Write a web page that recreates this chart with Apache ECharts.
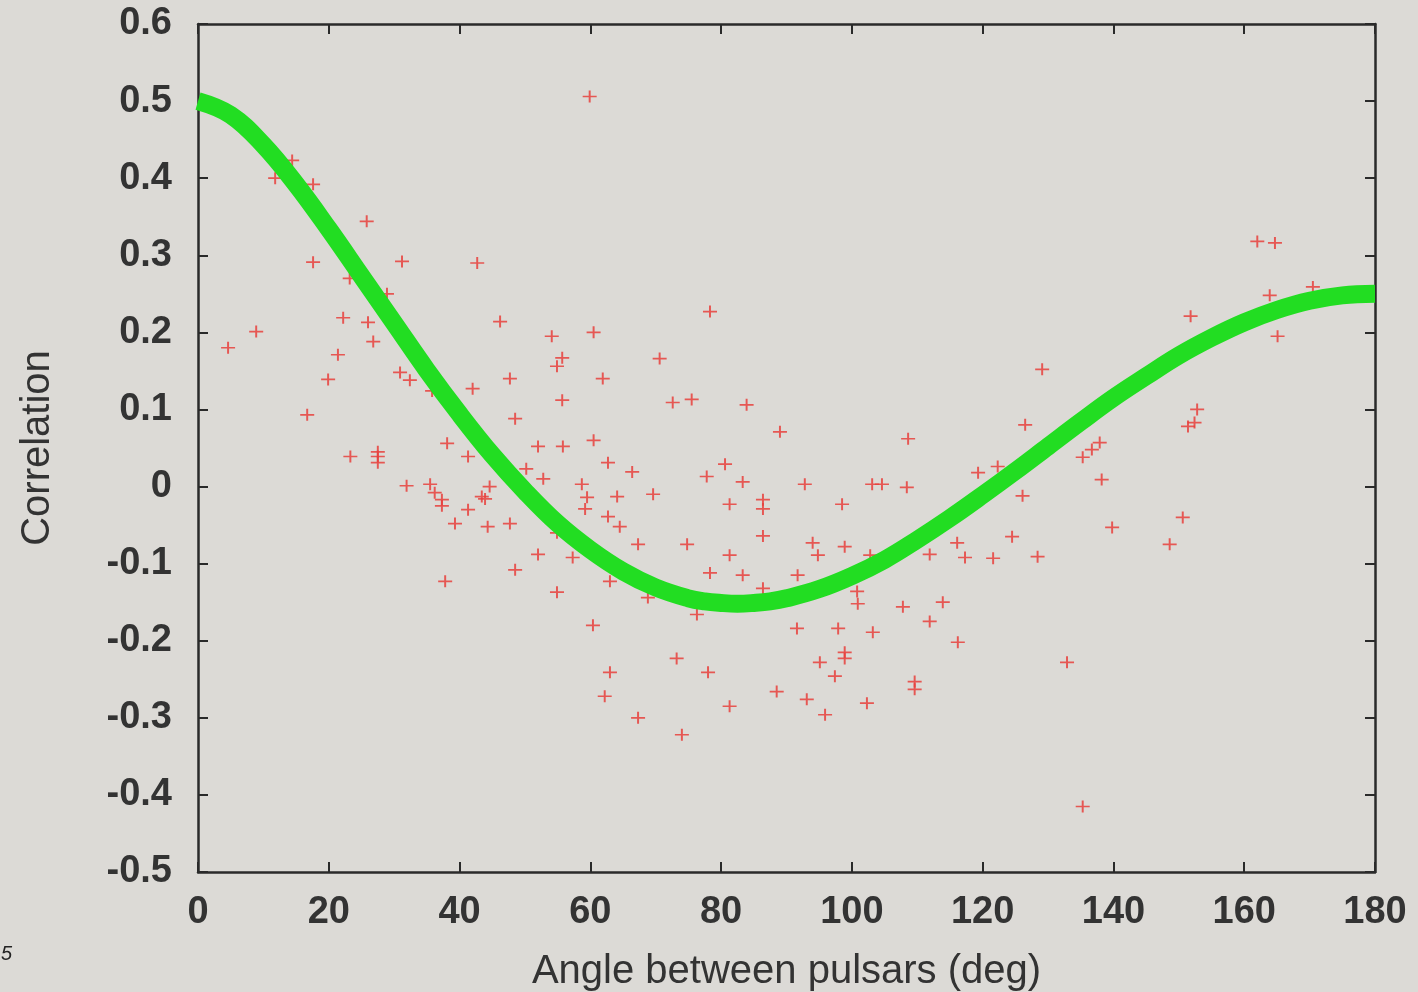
<!DOCTYPE html>
<html>
<head>
<meta charset="utf-8">
<script src="https://cdn.jsdelivr.net/npm/echarts@6/dist/echarts.min.js"></script>
<style>
  html, body { margin: 0; padding: 0; background: #dcdad6; }
  #chart { width: 1418px; height: 992px; }
</style>
</head>
<body>
<div id="chart"></div>
<script>
// tick labels
var xTicks = [0, 20, 40, 60, 80, 100, 120, 140, 160, 180];
var yTicks = [-0.5, -0.4, -0.3, -0.2, -0.1, 0, 0.1, 0.2, 0.3, 0.4, 0.5, 0.6];

// expected curve
var curveAngle = [0, 5, 10, 15, 20, 25, 30, 35, 40, 45, 50, 55, 60, 65, 70, 75, 77.5, 80, 82.5,
  85, 87.5, 90, 95, 100, 105, 110, 115, 120, 125, 130, 135, 140, 145, 150, 155, 160, 165,
  170, 175, 180];
var curveCorr = [0.500, 0.482, 0.443, 0.392, 0.334, 0.273, 0.212, 0.151, 0.094, 0.041, -0.006,
  -0.048, -0.082, -0.110, -0.131, -0.145, -0.149, -0.151, -0.152, -0.151, -0.149, -0.145,
  -0.133, -0.116, -0.095, -0.069, -0.041, -0.011, 0.020, 0.052, 0.084, 0.115, 0.143, 0.170,
  0.193, 0.213, 0.229, 0.241, 0.248, 0.250];

// measured pulsar pairs
var pairAngle = [
  4.6, 8.9, 11.8, 14.4, 17.6, 17.6, 16.7, 19.9, 21.4, 22.2, 23.2, 25.8, 26.0, 26.8, 28.9,
  31.2, 30.9, 32.4, 35.8, 42.0, 42.7, 46.2, 47.7, 48.5, 54.1, 55.7, 54.9, 55.7, 60.5, 59.9,
  23.3, 27.5, 27.5, 27.5, 38.1, 41.3, 52.0, 55.8, 60.5, 50.2, 52.8, 31.9, 35.5, 36.2, 37.3,
  37.3, 44.6, 43.4, 43.9, 41.3, 39.3, 44.3, 47.7, 58.7, 59.5, 59.2, 54.9, 52.0, 57.3, 48.5,
  37.8, 54.9,
  78.3, 61.9, 70.6, 72.6, 75.5, 83.9, 89.0, 108.6, 62.7, 66.4, 80.6, 77.8, 83.3, 92.8,
  103.1, 104.6, 108.4, 119.3, 64.1, 69.6, 81.3, 86.4, 86.4, 98.5, 62.7, 64.5, 67.3, 74.8,
  81.3, 86.4, 94.0, 94.8, 98.9, 102.8, 111.9, 116.1, 117.3, 63.0, 68.8, 78.3, 83.3, 91.7,
  86.4, 100.8, 100.9, 107.8, 113.9, 76.3, 60.4, 91.6, 97.9, 103.2, 111.9, 116.2, 98.9,
  98.9, 95.1, 97.4, 73.2, 63.0, 78.0, 109.6, 109.6, 62.2, 88.5, 93.1, 102.3, 81.3, 95.9,
  67.3, 74.0,
  162.0, 164.7, 170.5, 163.9, 165.1, 151.8, 129.1, 126.5, 152.8, 152.4, 151.4, 137.9,
  136.7, 135.3, 138.2, 122.3, 126.1, 150.6, 139.8, 124.5, 148.6, 121.6, 128.4, 132.9, 135.3
];
var pairCorr = [
  0.180, 0.201, 0.400, 0.423, 0.392, 0.291, 0.093, 0.139, 0.171, 0.219, 0.270, 0.344, 0.213,
  0.188, 0.250, 0.292, 0.148, 0.138, 0.124, 0.127, 0.290, 0.214, 0.140, 0.088, 0.195, 0.167,
  0.156, 0.112, 0.200, 0.506,
  0.039, 0.045, 0.039, 0.031, 0.056, 0.039, 0.052, 0.052, 0.060, 0.023, 0.010, 0.001, 0.003,
  -0.008, -0.017, -0.025, 0.000, -0.013, -0.016, -0.030, -0.048, -0.052, -0.048, 0.003,
  -0.014, -0.029, -0.060, -0.088, -0.092, -0.108, -0.123, -0.137,
  0.227, 0.140, 0.166, 0.109, 0.113, 0.106, 0.071, 0.062, 0.031, 0.019, 0.029, 0.013, 0.006,
  0.003, 0.003, 0.003, -0.001, 0.018, -0.013, -0.010, -0.023, -0.017, -0.029, -0.023,
  -0.039, -0.052, -0.075, -0.075, -0.089, -0.064, -0.073, -0.089, -0.078, -0.089, -0.088,
  -0.073, -0.092, -0.123, -0.144, -0.112, -0.115, -0.115, -0.132, -0.136, -0.152, -0.156,
  -0.150, -0.166, -0.180, -0.184, -0.184, -0.189, -0.175, -0.202, -0.215, -0.223, -0.228,
  -0.246, -0.223, -0.241, -0.241, -0.253, -0.263, -0.272, -0.266, -0.276, -0.281, -0.285,
  -0.296, -0.300, -0.322,
  0.318, 0.316, 0.259, 0.248, 0.195, 0.221, 0.152, 0.080, 0.100, 0.083, 0.078, 0.057, 0.048,
  0.038, 0.009, 0.026, -0.012, -0.040, -0.053, -0.065, -0.075, -0.093, -0.091, -0.228, -0.415
];

var chart = echarts.init(document.getElementById('chart'));

var labelFont = {
  fontFamily: 'Liberation Sans, Arial, sans-serif',
  fontSize: 38,
  fontWeight: 'bold',
  color: '#333333'
};
var frameLine = { show: true, onZero: false, lineStyle: { color: '#2a2a2a', width: 2.5 } };
var innerTick = { show: true, inside: true, length: 10, lineStyle: { color: '#2a2a2a', width: 2 } };

var option = {
  backgroundColor: '#dcdad6',
  animation: false,
  grid: { left: 198, right: 43, top: 24, bottom: 120, outerBoundsMode: 'none', containLabel: false },
  graphic: [{
    type: 'text', left: 1, top: 944,
    style: { text: '5', font: 'italic 20px Liberation Sans', fill: '#222' }
  }],
  xAxis: [{
    type: 'value',
    min: xTicks[0], max: xTicks[xTicks.length - 1], interval: 20,
    axisLine: frameLine,
    axisTick: innerTick,
    splitLine: { show: false },
    axisLabel: Object.assign({ margin: 22 }, labelFont),
    name: 'Angle between pulsars (deg)',
    nameLocation: 'middle',
    nameGap: 80,
    nameTextStyle: {
      fontFamily: 'Liberation Sans, Arial, sans-serif',
      fontSize: 40, color: '#333333'
    }
  }, {
    type: 'value', position: 'top',
    min: xTicks[0], max: xTicks[xTicks.length - 1], interval: 20,
    axisLine: frameLine, axisTick: innerTick,
    axisLabel: { show: false }, splitLine: { show: false }
  }],
  yAxis: [{
    type: 'value',
    min: yTicks[0], max: yTicks[yTicks.length - 1], interval: 0.1,
    axisLine: frameLine,
    axisTick: innerTick,
    splitLine: { show: false },
    axisLabel: Object.assign({ margin: 26 }, labelFont),
    name: 'Correlation',
    nameLocation: 'middle',
    nameRotate: 90,
    nameGap: 140,
    nameTextStyle: {
      fontFamily: 'Liberation Sans, Arial, sans-serif',
      fontSize: 40, color: '#333333'
    }
  }, {
    type: 'value', position: 'right',
    min: yTicks[0], max: yTicks[yTicks.length - 1], interval: 0.1,
    axisLine: frameLine, axisTick: innerTick,
    axisLabel: { show: false }, splitLine: { show: false }
  }],
  series: [{
    name: 'pairs',
    type: 'scatter',
    symbol: 'path://M0,4.3H10V5.7H0Z M4.3,0H5.7V10H4.3Z',
    symbolSize: [14, 12],
    itemStyle: { color: '#e8403c', opacity: 0.85 },
    data: pairAngle.map(function (a, i) { return [a, pairCorr[i]]; }),
    z: 3
  }, {
    name: 'expected',
    type: 'line',
    smooth: 0.4,
    symbol: 'none',
    clip: false,
    lineStyle: { color: '#22dd22', width: 18 },
    data: curveAngle.map(function (a, i) { return [a, curveCorr[i]]; }),
    z: 4
  }]
};

chart.setOption(option);
</script>
</body>
</html>
